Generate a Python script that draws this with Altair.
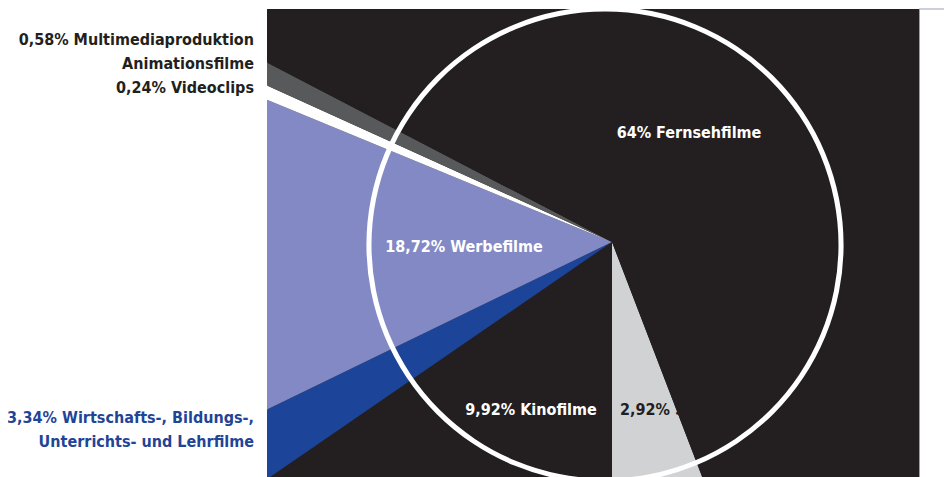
import math
import altair as alt
import pandas as pd

# ---- data read from the graphic ----
categories = ["Sonstige", "Kinofilme", "Wirtschafts-, Bildungs-, Unterrichts- und Lehrfilme",
              "Werbefilme", "Videoclips", "Multimediaproduktion", "Fernsehfilme"]
shares_pct = [2.92, 9.92, 3.34, 18.72, 0.24, 0.58, 64.0]
# angular width of each wedge as drawn in the graphic (degrees)
drawn_angle = [21.0, 55.5, 8.6, 48.3, 2.0, 3.1, 221.5]
slice_colors = ["#d1d2d4", "#231f20", "#1c4599", "#8389c4", "#ffffff", "#58595b", "#231f20"]

inside_labels = ["64% Fernsehfilme", "18,72% Werbefilme", "9,92% Kinofilme"]
left_labels_dark = ["0,58% Multimediaproduktion", "Animationsfilme", "0,24% Videoclips"]
left_labels_blue = ["3,34% Wirtschafts-, Bildungs-,", "Unterrichts- und Lehrfilme"]
small_label = "2,92% Sonstige"

DARK = "#231f20"
BLUE_TXT = "#1f4597"
FONT = "DejaVu Sans Condensed, DejaVu Sans, sans-serif"
FS = 16

W, H = 652, 468
CX, CY = 345, 233          # pie centre inside the plot area
START_DEG = 159.0          # where the first wedge starts (clockwise from 12 o'clock)

df = pd.DataFrame({
    "cat": categories,
    "share": shares_pct,
    "angle": drawn_angle,
    "idx": list(range(len(categories))),
})

start = math.radians(START_DEG)
pie = alt.Chart(df).mark_arc(clip=True, radius=560, x=CX, y=CY, strokeWidth=0).encode(
    theta=alt.Theta("angle:Q", stack=True,
                    scale=alt.Scale(domain=[0, 360], range=[start, start + 2 * math.pi])),
    color=alt.Color("cat:N", scale=alt.Scale(domain=categories, range=slice_colors), legend=None),
    order=alt.Order("idx:Q"),
)

ring_df = pd.DataFrame({"k": [0]})
ring = alt.Chart(ring_df).mark_arc(
    clip=True, x=338, y=236, radius=238.5, radius2=233.5, color="white"
).encode(theta=alt.value(0), theta2=alt.value(2 * math.pi))

def txt(text, x, y, color, align="center"):
    return alt.Chart(pd.DataFrame({"t": [text]})).mark_text(
        x=x, y=y, align=align, baseline="alphabetic", font=FONT, fontWeight="bold",
        fontSize=FS, color=color
    ).encode(text="t:N")

layers = [pie, ring]
layers.append(txt(small_label, 353, 406, DARK, "left"))
for t, (x, y) in zip(inside_labels, [(422, 129), (197, 243), (264, 406)]):
    layers.append(txt(t, x, y, "white"))
for t, y in zip(left_labels_dark, [36, 60, 84]):
    layers.append(txt(t, -13, y, DARK, "right"))
for t, y in zip(left_labels_blue, [414, 438]):
    layers.append(txt(t, -13, y, BLUE_TXT, "right"))

top_line = alt.Chart(ring_df).mark_rule(color="#9aa0b8", strokeWidth=1, clip=False).encode(
    x=alt.value(W), x2=alt.value(W + 25), y=alt.value(0))
layers.append(top_line)

chart = alt.layer(*layers).properties(
    width=W, height=H,
    autosize=alt.AutoSizeParams(type="none"),
    padding={"left": 259, "top": 1, "right": 25, "bottom": 0},
    background="white",
).configure_view(fill=DARK, stroke="#9aa0b8", strokeWidth=1)

chart.save("out.html", embed_options={"renderer": "svg", "actions": False})
